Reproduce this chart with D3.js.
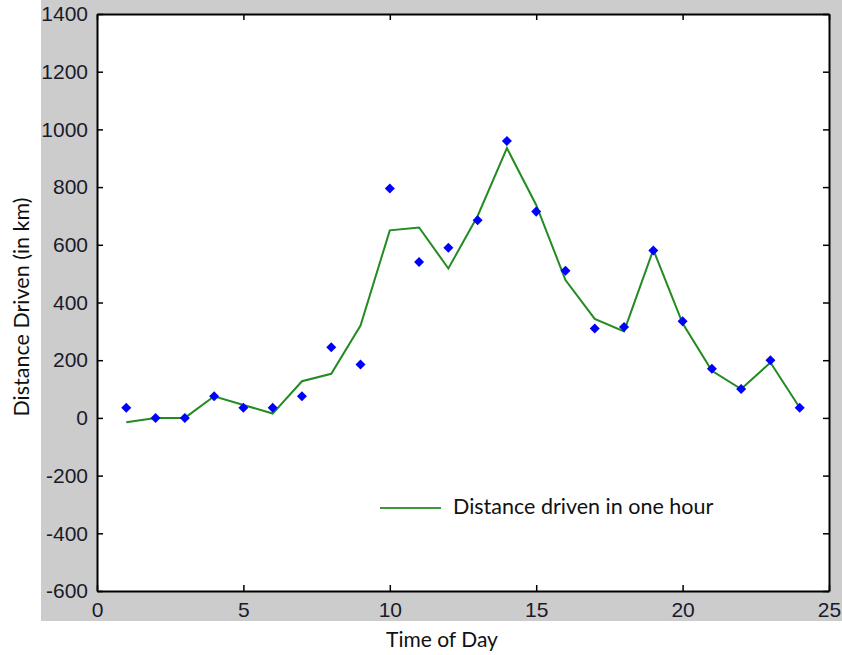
<!DOCTYPE html>
<html>
<head>
<meta charset="utf-8">
<script src="https://cdn.jsdelivr.net/npm/d3@7"></script>
<style>
  body { margin: 0; background: #fff; }
  svg { display: block; }
</style>
</head>
<body>
<svg id="chart" width="842" height="655"></svg>
<script>
// hours of the day
const hours = d3.range(1, 25);
// measured distance (blue markers)
const measured = [35, 0, 0, 75, 35, 35, 75, 245, 185, 795, 540, 590, 685, 960, 715, 510, 310, 315, 580, 335, 170, 100, 200, 35];
// fitted line (green)
const fitted = [-15, 0, 0, 75, 45, 15, 127, 153, 320, 650, 660, 518, 700, 935, 738, 478, 343, 300, 583, 328, 163, 100, 192, 35];
const xTicks = [0, 5, 10, 15, 20, 25];
const yTicks = d3.range(-600, 1401, 200);

const svg = d3.select("#chart");
const plotL = 97, plotR = 829, plotT = 14, plotB = 591;

// grey figure background
svg.append("rect")
  .attr("x", 41).attr("y", 0)
  .attr("width", 842 - 41).attr("height", 621)
  .attr("fill", "#cccccc");

svg.append("rect")
  .attr("x", plotL).attr("y", plotT)
  .attr("width", plotR - plotL).attr("height", plotB - plotT)
  .attr("fill", "#fff");

const x = d3.scaleLinear().domain([0, 25]).range([plotL, plotR]);
const y = d3.scaleLinear().domain([-600, 1400]).range([plotB, plotT]);

const tickFont = "'Liberation Sans', Arial, sans-serif";
const fmt = d => String(d);

// axes with inward ticks
const xAxisB = d3.axisBottom(x).tickValues(xTicks).tickFormat(fmt).tickSizeInner(-6).tickSizeOuter(0);
const xAxisT = d3.axisTop(x).tickValues(xTicks).tickSizeInner(-6).tickSizeOuter(0).tickFormat("");
const yAxisL = d3.axisLeft(y).tickValues(yTicks).tickFormat(fmt).tickSizeInner(-6).tickSizeOuter(0);
const yAxisR = d3.axisRight(y).tickValues(yTicks).tickSizeInner(-6).tickSizeOuter(0).tickFormat("");

function styleAxis(g) {
  g.selectAll(".domain").attr("stroke", "#000").attr("stroke-width", 2);
  g.selectAll(".tick line").attr("stroke", "#000").attr("stroke-width", 1.5);
  g.selectAll(".tick text")
    .attr("fill", "#1a1a2a")
    .style("font-family", tickFont)
    .style("font-size", "21px");
}

svg.append("g").attr("transform", `translate(0,${plotB})`).call(xAxisB).call(styleAxis)
  .selectAll(".tick text").attr("y", 26).attr("dy", 0);
svg.append("g").attr("transform", `translate(0,${plotT})`).call(xAxisT).call(styleAxis);
svg.append("g").attr("transform", `translate(${plotL},0)`).call(yAxisL).call(styleAxis)
  .selectAll(".tick text").attr("x", -9);
svg.append("g").attr("transform", `translate(${plotR},0)`).call(yAxisR).call(styleAxis);

// fitted line
const line = d3.line()
  .x((d, i) => x(hours[i]))
  .y(d => y(d));

svg.append("path")
  .datum(fitted)
  .attr("d", line)
  .attr("fill", "none")
  .attr("stroke", "#228b22")
  .attr("stroke-width", 2);

// measured markers
svg.selectAll(".pt")
  .data(measured)
  .enter().append("path")
  .attr("class", "pt")
  .attr("transform", (d, i) => `translate(${x(hours[i])},${y(d)})`)
  .attr("d", d3.symbol().type(d3.symbolDiamond2).size(64))
  .attr("fill", "#0000ff");

// legend
const labelFont = "Lato, 'Open Sans', sans-serif";
svg.append("line")
  .attr("x1", 380).attr("x2", 441)
  .attr("y1", 508).attr("y2", 508)
  .attr("stroke", "#3a9a3a").attr("stroke-width", 2);
svg.append("text")
  .attr("x", 453).attr("y", 514)
  .style("font-family", labelFont)
  .style("font-size", "21.5px")
  .attr("fill", "#111")
  .text("Distance driven in one hour");

// axis titles
svg.append("text")
  .attr("x", 442).attr("y", 647)
  .attr("text-anchor", "middle")
  .style("font-family", labelFont)
  .style("font-size", "21px")
  .attr("fill", "#111")
  .text("Time of Day");

svg.append("text")
  .attr("transform", "translate(29,307) rotate(-90)")
  .attr("text-anchor", "middle")
  .style("font-family", labelFont)
  .style("font-size", "21.5px")
  .attr("fill", "#111")
  .text("Distance Driven (in km)");
</script>
</body>
</html>
